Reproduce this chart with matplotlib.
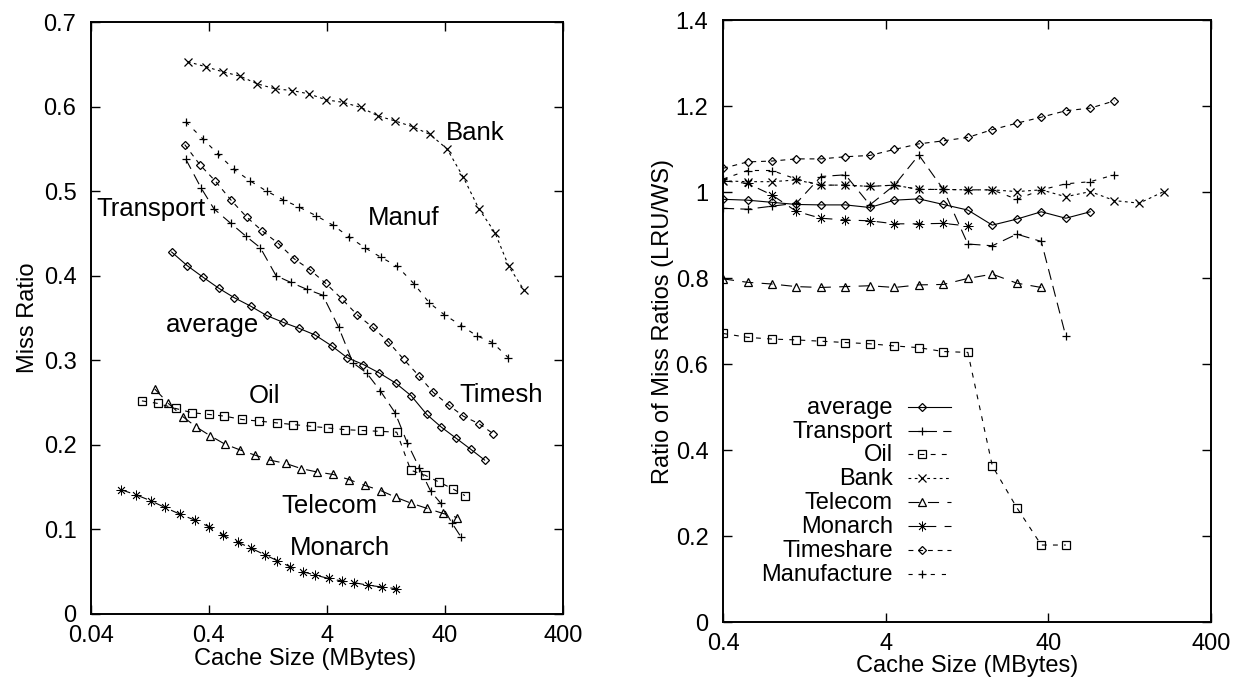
import matplotlib
matplotlib.use("Agg")
import matplotlib.pyplot as plt
from matplotlib.ticker import FixedLocator, NullLocator, FixedFormatter
from matplotlib.lines import Line2D

plt.rcParams['font.family'] = ['Liberation Sans', 'DejaVu Sans']
plt.rcParams['font.size'] = 17
plt.rcParams['lines.scale_dashes'] = False

# ---------------- Left panel data: miss ratio vs cache size ----------------
avg_x = [0.193, 0.261, 0.358, 0.486, 0.655, 0.902, 1.23, 1.69, 2.30, 3.16, 4.39, 5.94, 8.13, 11.1, 15.3, 20.7, 28.0, 37.2, 49.5, 65.8, 86.7]
avg_y = [0.428, 0.412, 0.398, 0.385, 0.374, 0.364, 0.353, 0.345, 0.338, 0.330, 0.317, 0.303, 0.295, 0.285, 0.273, 0.258, 0.236, 0.221, 0.208, 0.195, 0.182]

trans_x = [0.254, 0.342, 0.441, 0.611, 0.818, 1.09, 1.48, 1.98, 2.69, 3.68, 5.02, 6.64, 8.67, 11.3, 15.1, 19.2, 24.2, 30.3, 36.8, 45.6, 54.7]
trans_y = [0.538, 0.504, 0.479, 0.462, 0.447, 0.433, 0.400, 0.392, 0.384, 0.377, 0.339, 0.297, 0.285, 0.264, 0.238, 0.202, 0.173, 0.145, 0.131, 0.108, 0.091]

oil_x = [0.108, 0.147, 0.209, 0.288, 0.397, 0.540, 0.762, 1.07, 1.50, 2.07, 2.90, 4.07, 5.69, 7.93, 11.1, 15.6, 20.5, 27.2, 35.6, 46.5, 59.0]
oil_y = [0.252, 0.249, 0.243, 0.238, 0.236, 0.234, 0.230, 0.228, 0.226, 0.224, 0.222, 0.220, 0.218, 0.217, 0.216, 0.215, 0.170, 0.164, 0.156, 0.148, 0.140]

bank_x = [0.265, 0.378, 0.526, 0.733, 1.02, 1.45, 2.02, 2.81, 3.93, 5.47, 7.76, 10.8, 15.1, 21.4, 29.9, 41.6, 56.9, 77.6, 106, 139, 187]
bank_y = [0.653, 0.647, 0.641, 0.636, 0.627, 0.621, 0.619, 0.615, 0.608, 0.605, 0.599, 0.589, 0.583, 0.576, 0.567, 0.550, 0.517, 0.479, 0.451, 0.411, 0.383]

tel_x = [0.139, 0.181, 0.242, 0.313, 0.407, 0.543, 0.733, 0.975, 1.31, 1.79, 2.41, 3.27, 4.52, 6.14, 8.39, 11.4, 15.3, 20.7, 28.0, 38.3, 50.8]
tel_y = [0.266, 0.249, 0.233, 0.221, 0.211, 0.201, 0.194, 0.188, 0.182, 0.178, 0.172, 0.168, 0.165, 0.159, 0.152, 0.146, 0.138, 0.131, 0.125, 0.119, 0.114]

mon_x = [0.0718, 0.0961, 0.128, 0.169, 0.227, 0.303, 0.403, 0.528, 0.700, 0.902, 1.19, 1.52, 1.94, 2.49, 3.18, 4.13, 5.36, 6.81, 8.95, 11.6, 15.4]
mon_y = [0.147, 0.141, 0.134, 0.126, 0.118, 0.111, 0.103, 0.093, 0.085, 0.078, 0.070, 0.063, 0.056, 0.050, 0.046, 0.042, 0.039, 0.037, 0.034, 0.032, 0.030]

ts_x = [0.249, 0.336, 0.452, 0.618, 0.839, 1.13, 1.55, 2.11, 2.87, 3.90, 5.31, 7.18, 9.75, 13.2, 17.9, 23.9, 31.8, 43.0, 57.1, 77.6, 103]
ts_y = [0.555, 0.531, 0.512, 0.489, 0.469, 0.453, 0.438, 0.420, 0.407, 0.391, 0.373, 0.354, 0.339, 0.322, 0.301, 0.282, 0.262, 0.247, 0.234, 0.225, 0.213]

man_x = [0.254, 0.354, 0.476, 0.647, 0.895, 1.23, 1.69, 2.33, 3.23, 4.47, 6.14, 8.39, 11.4, 15.8, 22.0, 29.4, 39.4, 55.0, 74.3, 101, 138]
man_y = [0.582, 0.562, 0.544, 0.526, 0.512, 0.500, 0.490, 0.481, 0.471, 0.460, 0.446, 0.433, 0.422, 0.411, 0.390, 0.368, 0.354, 0.341, 0.329, 0.321, 0.303]

left_labels = ["Bank", "Manuf", "Transport", "average", "Oil", "Timesh", "Telecom", "Monarch"]
left_label_x = [40.5, 8.95, 0.0447, 0.173, 0.861, 52.9, 1.65, 1.94]
left_label_y = [0.560, 0.460, 0.471, 0.333, 0.250, 0.251, 0.120, 0.070]

left_xticks = [0.04, 0.4, 4, 40, 400]
left_xticklabels = ["0.04", "0.4", "4", "40", "400"]
left_yticks = [0, 0.1, 0.2, 0.3, 0.4, 0.5, 0.6, 0.7]
left_yticklabels = ["0", "0.1", "0.2", "0.3", "0.4", "0.5", "0.6", "0.7"]

# ---------------- Right panel data: ratio LRU/WS ----------------
ratio_x = [0.4, 0.566, 0.8, 1.13, 1.6, 2.26, 3.2, 4.53, 6.4, 9.05, 12.8, 18.1, 25.6, 36.2, 51.2, 72.4, 102, 145, 205]
r_avg = [0.983, 0.981, 0.976, 0.971, 0.970, 0.970, 0.964, 0.981, 0.984, 0.971, 0.958, 0.923, 0.937, 0.954, 0.939, 0.954]
r_trans = [0.962, 0.960, 0.967, 0.974, 1.036, 1.040, 0.970, 1.016, 1.086, 1.006, 0.879, 0.875, 0.902, 0.885, 0.665]
r_oil = [0.671, 0.662, 0.658, 0.656, 0.653, 0.650, 0.647, 0.642, 0.638, 0.629, 0.627, 0.363, 0.266, 0.179, 0.179]
r_bank = [1.026, 1.024, 1.024, 1.028, 1.016, 1.016, 1.013, 1.016, 1.006, 1.006, 1.005, 1.005, 1.001, 1.005, 0.989, 1.001, 0.980, 0.974, 1.001]
r_tel = [0.798, 0.790, 0.786, 0.780, 0.778, 0.780, 0.782, 0.778, 0.784, 0.785, 0.799, 0.809, 0.788, 0.778]
r_mon = [1.026, 1.020, 0.993, 0.955, 0.939, 0.935, 0.933, 0.926, 0.926, 0.927, 0.921]
r_ts = [1.055, 1.070, 1.072, 1.077, 1.077, 1.082, 1.085, 1.099, 1.112, 1.119, 1.127, 1.145, 1.160, 1.174, 1.189, 1.195, 1.212]
r_man = [1.030, 1.050, 1.050, 1.030, 1.016, 1.016, 1.013, 1.016, 1.006, 1.006, 1.005, 1.005, 0.983, 1.005, 1.019, 1.024, 1.040]

legend_names = ["average", "Transport", "Oil", "Bank", "Telecom", "Monarch", "Timeshare", "Manufacture"]

right_xticks = [0.4, 4, 40, 400]
right_xticklabels = ["0.4", "4", "40", "400"]
right_yticks = [0, 0.2, 0.4, 0.6, 0.8, 1.0, 1.2, 1.4]
right_yticklabels = ["0", "0.2", "0.4", "0.6", "0.8", "1", "1.2", "1.4"]

# ---------------- styles ----------------
LW = 0.8
ASTER = (8, 2, 0)
styles = {
    "average":     dict(marker='D', ms=4.5, mew=0.9, dashes=None),
    "Transport":   dict(marker='+', ms=6, mew=0.9, dashes=(8, 4.5)),
    "Oil":         dict(marker='s', ms=6, mew=0.9, dashes=(3.5, 4.5)),
    "Bank":        dict(marker='x', ms=5.5, mew=0.9, dashes=(2, 2.5)),
    "Telecom":     dict(marker='^', ms=6, mew=0.9, dashes=(8, 6)),
    "Monarch":     dict(marker=ASTER, ms=7, mew=0.6, dashes=(7, 6)),
    "Timeshare":   dict(marker='D', ms=4.5, mew=0.9, dashes=(3.5, 3.5)),
    "Manufacture": dict(marker='+', ms=6, mew=0.9, dashes=(3, 5)),
}


def draw(ax, x, y, key):
    st = styles[key]
    line, = ax.plot(x, y, color='black', lw=LW, marker=st['marker'], ms=st['ms'],
                    mfc='none', mec='black', mew=st['mew'])
    if st['dashes'] is not None:
        line.set_dashes(st['dashes'])
    return line


def style_axes(ax, xticks, xlabels, yticks, ylabels):
    ax.set_xscale('log')
    ax.xaxis.set_major_locator(FixedLocator(xticks))
    ax.xaxis.set_major_formatter(FixedFormatter(xlabels))
    ax.xaxis.set_minor_locator(NullLocator())
    ax.set_yticks(yticks)
    ax.set_yticklabels(ylabels)
    ax.tick_params(direction='in', length=6.5, width=1.0, top=True, right=True,
                   labelsize=17)
    ax.tick_params(axis='x', pad=8)
    ax.tick_params(axis='y', pad=10.5)
    for s in ax.spines.values():
        s.set_linewidth(1.4)


fig = plt.figure(figsize=(12.44, 6.85), dpi=100)

# Left panel
axL = fig.add_axes([0.07315, 0.10365, 0.37942, 0.86423])
draw(axL, bank_x, bank_y, "Bank")
draw(axL, man_x, man_y, "Manufacture")
draw(axL, ts_x, ts_y, "Timeshare")
draw(axL, trans_x, trans_y, "Transport")
draw(axL, avg_x, avg_y, "average")
draw(axL, oil_x, oil_y, "Oil")
draw(axL, tel_x, tel_y, "Telecom")
draw(axL, mon_x, mon_y, "Monarch")
axL.set_xlim(0.04, 400)
axL.set_ylim(0, 0.7)
style_axes(axL, left_xticks, left_xticklabels, left_yticks, left_yticklabels)
for name, tx, ty in zip(left_labels, left_label_x, left_label_y):
    axL.text(tx, ty, name, ha='left', va='baseline', fontsize=18.5)
axL.set_xlabel("Cache Size (MBytes)", fontsize=17)
axL.xaxis.set_label_coords(0.453, -0.058)
axL.set_ylabel("Miss Ratio", fontsize=17, labelpad=3)

# Right panel
axR = fig.add_axes([0.58119, 0.09197, 0.39228, 0.87883])
series_r = [("average", r_avg), ("Transport", r_trans), ("Oil", r_oil), ("Bank", r_bank),
            ("Telecom", r_tel), ("Monarch", r_mon), ("Timeshare", r_ts), ("Manufacture", r_man)]
for name, vals in series_r:
    draw(axR, ratio_x[:len(vals)], vals, name)
axR.set_xlim(0.4, 400)
axR.set_ylim(0, 1.4)
style_axes(axR, right_xticks, right_xticklabels, right_yticks, right_yticklabels)
axR.set_xlabel("Cache Size (MBytes)", fontsize=17, labelpad=0)
axR.set_ylabel("Ratio of Miss Ratios (LRU/WS)", fontsize=17, labelpad=1)

# Legend (gnuplot style: text right-aligned, sample to the right)
leg_text_x = 0.348
leg_line_x0, leg_line_x1, leg_mark_x = 0.3797, 0.4666, 0.4072
leg_y0, leg_dy = 0.3577, 0.0397
for i, name in enumerate(legend_names):
    yy = leg_y0 - i * leg_dy
    st = styles[name]
    ln = Line2D([leg_line_x0, leg_line_x1], [yy, yy], transform=axR.transAxes,
                color='black', lw=LW)
    if st['dashes'] is not None:
        ln.set_dashes(st['dashes'])
    axR.add_line(ln)
    mk = Line2D([leg_mark_x], [yy], transform=axR.transAxes, linestyle='none',
                marker=st['marker'], ms=st['ms'], mfc='none', mec='black', mew=st['mew'])
    axR.add_line(mk)
    axR.text(leg_text_x, yy - 0.0116, name, transform=axR.transAxes,
             ha='right', va='baseline', fontsize=17)

fig.savefig("out.png", dpi=100)
